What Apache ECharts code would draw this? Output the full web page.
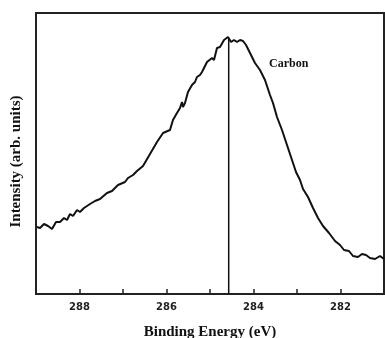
<!DOCTYPE html>
<html>
<head>
<meta charset="utf-8">
<script src="https://cdn.jsdelivr.net/npm/echarts@6/dist/echarts.min.js"></script>
<style>html,body{margin:0;padding:0;background:#fff;}#chart{width:385px;height:338px;}</style>
</head>
<body>
<div id="chart"></div>
<script>
// Binding energy (eV) and intensity (arb. units)
const energy = [288.977,288.908,288.816,288.724,288.632,288.540,288.448,288.356,288.287,288.218,288.149,288.057,287.989,287.897,287.759,287.644,287.529,287.368,287.253,287.115,286.954,286.885,286.770,286.678,286.540,286.379,286.218,286.080,285.920,285.851,285.759,285.690,285.644,285.621,285.575,285.506,285.414,285.345,285.299,285.230,285.184,285.069,284.954,284.908,284.839,284.770,284.678,284.586,284.517,284.448,284.379,284.310,284.241,284.172,284.080,283.966,283.851,283.736,283.621,283.552,283.460,283.345,283.230,283.115,283.023,282.931,282.862,282.747,282.632,282.517,282.402,282.264,282.126,282.011,281.920,281.805,281.713,281.598,281.506,281.414,281.322,281.207,281.092,281.000];
const intensity = [67,66,70,68,65,72,72,76,74,80,78,84,82,86,90,93,95,101,103,109,112,116,119,123,128,140,152,161,164,174,181,186,192,187,191,202,209,212,217,219,222,232,236,234,246,247,254,257,252,254,252,254,253,249,241,231,224,214,199,191,177,164,149,134,122,114,105,97,86,76,68,61,53,49,44,43,38,37,40,39,36,35,38,35];
const refEnergy = [284.57, 284.57];
const refLevel = [0, 256];
const majorTicks = ['288','286','284','282'];
const peakLabel = 'Carbon';

const chart = echarts.init(document.getElementById('chart'), null, {renderer:'canvas'});
const serif = '"Liberation Serif", "DejaVu Serif", serif';
chart.setOption({
  animation: false,
  backgroundColor: '#fff',
  grid: {left: 36, right: 1, top: 13, bottom: 44, show: true, borderColor: '#222', borderWidth: 2, containLabel: false, outerBoundsMode: 'none'},
  xAxis: [{
    type: 'value', min: 281, max: 289, interval: 1, inverse: true,
    name: 'Binding Energy (eV)', nameLocation: 'middle', nameGap: 31,
    nameTextStyle: {fontFamily: serif, fontWeight: 'bold', fontSize: 15, color: '#111'},
    axisLine: {show: true, lineStyle: {color: '#222', width: 2}},
    axisTick: {show: true, inside: true, length: 5, lineStyle: {color: '#222', width: 1.5},
      interval: function(i, v){ return majorTicks.indexOf(String(v)) >= 0; }},
    axisLabel: {fontFamily: '"DejaVu Sans", sans-serif', fontWeight: 'bold', fontSize: 10, color: '#222', margin: 8,
      formatter: function(v){ return majorTicks.indexOf(String(v)) >= 0 ? String(v) : ''; }},
    splitLine: {show: false}
  },{
    type: 'value', min: 281, max: 289, interval: 1, inverse: true, position: 'bottom',
    axisLine: {show: false},
    axisTick: {show: true, inside: true, length: 3, lineStyle: {color: '#222', width: 1.5},
      interval: function(i, v){ return majorTicks.indexOf(String(v)) < 0; }},
    axisLabel: {show: false}, splitLine: {show: false}
  }],
  yAxis: {
    type: 'value', min: 0, max: 281,
    name: 'Intensity (arb. units)', nameLocation: 'middle', nameGap: 12,
    nameTextStyle: {fontFamily: serif, fontWeight: 'bold', fontSize: 15, color: '#111', padding: [0, 16, 0, 0]},
    axisLine: {show: true, lineStyle: {color: '#222', width: 2}},
    axisTick: {show: false}, axisLabel: {show: false}, splitLine: {show: false}
  },
  graphic: [{type: 'text', left: 269, top: 58, style: {text: peakLabel, font: 'bold 12px ' + serif, fill: '#111'}}],
  series: [{
    type: 'line', data: energy.map((e, i) => [e, intensity[i]]), showSymbol: false, smooth: false,
    lineStyle: {color: '#111', width: 2}
  },{
    type: 'line', data: refEnergy.map((e, i) => [e, refLevel[i]]), showSymbol: false,
    lineStyle: {color: '#111', width: 1.5}
  }]
});
</script>
</body>
</html>
